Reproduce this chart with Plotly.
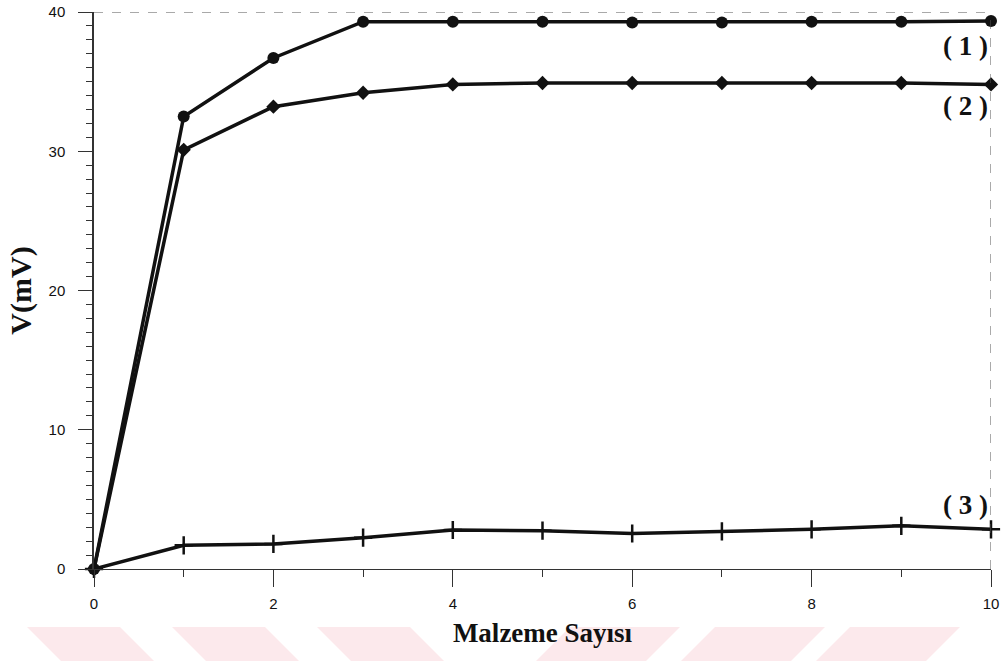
import plotly.graph_objects as go

# Number of material pieces
malzeme = [0, 1, 2, 3, 4, 5, 6, 7, 8, 9, 10]

# Measured voltages (mV) for the three configurations
v1 = [0, 32.5, 36.7, 39.3, 39.3, 39.3, 39.25, 39.25, 39.3, 39.3, 39.35]
v2 = [0, 30.1, 33.2, 34.2, 34.8, 34.9, 34.9, 34.9, 34.9, 34.9, 34.8]
v3 = [0, 1.7, 1.8, 2.25, 2.8, 2.75, 2.55, 2.7, 2.85, 3.1, 2.85]

series_labels = ["( 1 )", "( 2 )", "( 3 )"]

x_ticks = [0, 2, 4, 6, 8, 10]
y_ticks = [0, 10, 20, 30, 40]

INK = "#111111"
SERIF = "Liberation Serif, Times New Roman, serif"
SANS = "Liberation Sans, Arial, sans-serif"

# Page geometry (pixels) used for the paper-space watermark
W, H = 1002, 661
ML, MR, MT, MB = 94, 11, 12, 92
PW, PH = W - ML - MR, H - MT - MB


def px(x):
    return (x - ML) / PW


def py(y):
    return (H - MB - y) / PH


fig = go.Figure()

fig.add_trace(go.Scatter(
    x=malzeme, y=v3, mode="lines+markers",
    line=dict(color=INK, width=3.5),
    marker=dict(symbol="cross-thin", size=13, line=dict(color=INK, width=2.5)),
    cliponaxis=False, showlegend=False))

fig.add_trace(go.Scatter(
    x=malzeme, y=v2, mode="lines+markers",
    line=dict(color=INK, width=3.5),
    marker=dict(symbol="diamond", size=11, color=INK),
    cliponaxis=False, showlegend=False))

fig.add_trace(go.Scatter(
    x=malzeme, y=v1, mode="lines+markers",
    line=dict(color=INK, width=3.5),
    marker=dict(symbol="circle", size=12, color=INK),
    cliponaxis=False, showlegend=False))

# Curve labels near the right edge
label_y = [v1[-1] - 1.8, v2[-1] - 1.55, v3[-1] + 1.75]
for txt, yy in zip(series_labels, label_y):
    fig.add_annotation(
        x=malzeme[-1], y=yy, xref="x", yref="y", text=f"<b>{txt}</b>",
        showarrow=False, xanchor="right", xshift=-1,
        font=dict(family=SERIF, size=27, color=INK))

# Dashed frame on top and right side
fig.add_shape(type="line", xref="x", yref="y", x0=0, x1=10, y0=40, y1=40,
              line=dict(color="#555555", width=1, dash="dash"))
fig.add_shape(type="line", xref="x", yref="y", x0=10, x1=10, y0=0, y1=40,
              line=dict(color="#555555", width=1, dash="dash"))

# Faint chevron watermark at the bottom of the page
pink = "rgba(250,215,220,0.55)"
top_y, bot_y = 627, 661
for x0 in [27, 172, 317]:
    fig.add_shape(type="path", xref="paper", yref="paper", layer="below",
                  path=(f"M {px(x0)} {py(top_y)} L {px(x0 + 93)} {py(top_y)} "
                        f"L {px(x0 + 127)} {py(bot_y)} L {px(x0 + 34)} {py(bot_y)} Z"),
                  fillcolor=pink, line=dict(width=0))
for x0 in [570, 715, 850]:
    fig.add_shape(type="path", xref="paper", yref="paper", layer="below",
                  path=(f"M {px(x0)} {py(top_y)} L {px(x0 + 110)} {py(top_y)} "
                        f"L {px(x0 + 76)} {py(bot_y)} L {px(x0 - 34)} {py(bot_y)} Z"),
                  fillcolor=pink, line=dict(width=0))

fig.update_layout(
    width=W, height=H,
    margin=dict(l=ML, r=MR, t=MT, b=MB, autoexpand=False),
    paper_bgcolor="white", plot_bgcolor="white",
    xaxis=dict(
        range=[0, 10], tickvals=x_ticks, ticktext=[str(v) for v in x_ticks],
        showgrid=False, zeroline=False, automargin=False,
        showline=True, linecolor="#333333", linewidth=1,
        ticks="outside", ticklen=17, tickwidth=1, tickcolor="#333333",
        minor=dict(dtick=1, ticks="outside", ticklen=7, tickcolor="#333333"),
        tickfont=dict(family=SANS, size=15, color=INK),
        ticklabelstandoff=4,
        title=dict(text="<b>Malzeme Sayısı</b>", standoff=12,
                   font=dict(family=SERIF, size=27, color=INK)),
    ),
    yaxis=dict(
        range=[0, 40], tickvals=y_ticks, ticktext=[str(v) for v in y_ticks],
        showgrid=False, zeroline=False, automargin=False,
        showline=True, linecolor="#333333", linewidth=1.5,
        ticks="outside", ticklen=14, tickwidth=1, tickcolor="#333333",
        minor=dict(dtick=1, ticks="outside", ticklen=6, tickcolor="#333333"),
        tickfont=dict(family=SANS, size=15, color=INK),
        ticklabelstandoff=10,
        title=dict(text="<b>V(mV)</b>", standoff=8,
                   font=dict(family=SERIF, size=30, color=INK)),
    ),
)

fig.write_html("out.html")
